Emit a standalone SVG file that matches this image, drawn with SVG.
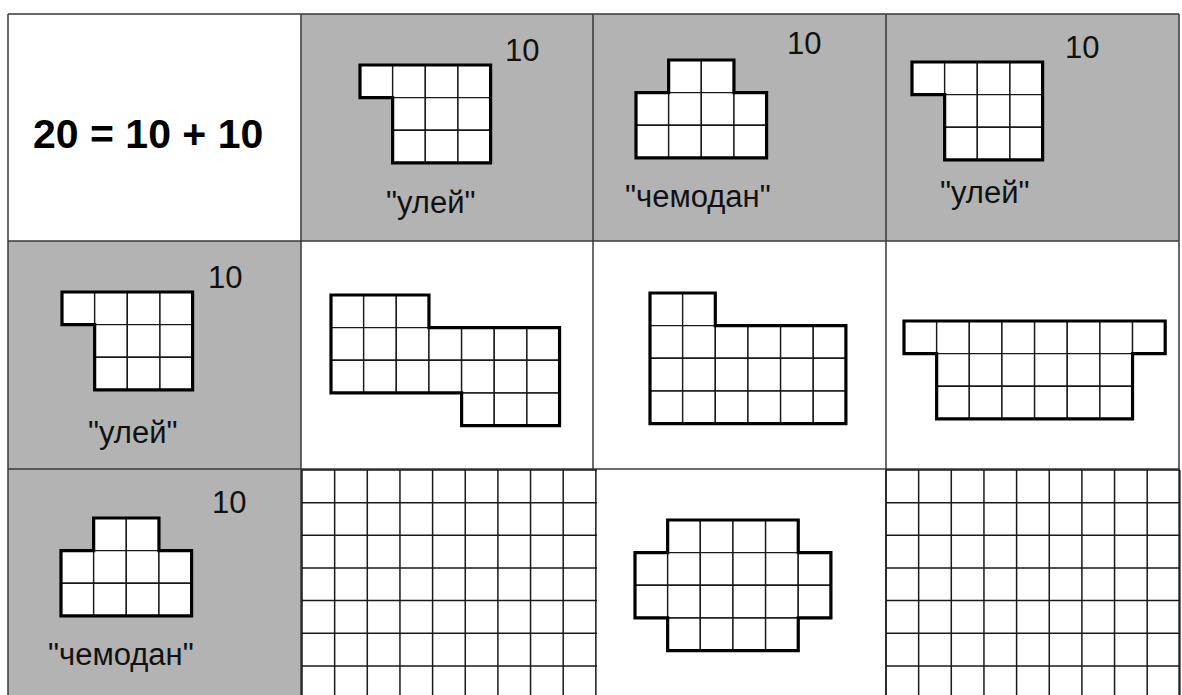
<svg xmlns="http://www.w3.org/2000/svg" width="1182" height="695" viewBox="0 0 1182 695">
<style>
.bg{fill:#ffffff}
.grey{fill:#b3b3b3}
.border{fill:none;stroke:#3a3a3a;stroke-width:1.5}
.cell{fill:#ffffff;stroke:#1a1a1a;stroke-width:1.4;vector-effect:non-scaling-stroke}
.outline{fill:none;stroke:#000000;stroke-width:3.2;stroke-linejoin:miter;vector-effect:non-scaling-stroke}
.gridline{fill:none;stroke:#1a1a1a;stroke-width:1.5}
.num{font-family:"Liberation Sans",Arial,sans-serif;font-size:31px;fill:#111111}
.lbl{font-family:"Liberation Sans",Arial,sans-serif;font-size:31px;fill:#111111}
.eq{font-family:"Liberation Sans",Arial,sans-serif;font-size:41px;font-weight:bold;fill:#000000}
</style>
<rect class="bg" x="0" y="0" width="1182" height="695"/>

<g id="cells-bg">
  <rect class="grey" x="301" y="14" width="292" height="227"/>
  <rect class="grey" x="593" y="14" width="293" height="227"/>
  <rect class="grey" x="886" y="14" width="293" height="227"/>
  <rect class="grey" x="8" y="241" width="293" height="228"/>
  <rect class="grey" x="8" y="469" width="294" height="226"/>
</g>

<g id="table-borders">
  <path class="border" d="M8,14 H1179 M8,241 H1179 M8,469 H1179 M8,14 V695 M301,14 V695 M593,14 V695 M886,14 V695 M1179,14 V695"/>
</g>

<g id="c11">
  <text class="eq" x="33" y="148">20 = 10 + 10</text>
</g>

<g id="c12">
  <g transform="translate(360,65) scale(32.65)">
    <rect class="cell" x="0" y="0" width="1" height="1"/><rect class="cell" x="1" y="0" width="1" height="1"/><rect class="cell" x="2" y="0" width="1" height="1"/><rect class="cell" x="3" y="0" width="1" height="1"/>
    <rect class="cell" x="1" y="1" width="1" height="1"/><rect class="cell" x="2" y="1" width="1" height="1"/><rect class="cell" x="3" y="1" width="1" height="1"/>
    <rect class="cell" x="1" y="2" width="1" height="1"/><rect class="cell" x="2" y="2" width="1" height="1"/><rect class="cell" x="3" y="2" width="1" height="1"/>
    <polygon class="outline" points="0,0 4,0 4,3 1,3 1,1 0,1"/>
  </g>
  <text class="num" x="505" y="61">10</text>
  <text class="lbl" x="386" y="213">"улей"</text>
</g>

<g id="c13">
  <g transform="translate(636,60) scale(32.65)">
    <rect class="cell" x="1" y="0" width="1" height="1"/><rect class="cell" x="2" y="0" width="1" height="1"/>
    <rect class="cell" x="0" y="1" width="1" height="1"/><rect class="cell" x="1" y="1" width="1" height="1"/><rect class="cell" x="2" y="1" width="1" height="1"/><rect class="cell" x="3" y="1" width="1" height="1"/>
    <rect class="cell" x="0" y="2" width="1" height="1"/><rect class="cell" x="1" y="2" width="1" height="1"/><rect class="cell" x="2" y="2" width="1" height="1"/><rect class="cell" x="3" y="2" width="1" height="1"/>
    <polygon class="outline" points="1,0 3,0 3,1 4,1 4,3 0,3 0,1 1,1"/>
  </g>
  <text class="num" x="787" y="54">10</text>
  <text class="lbl" x="625" y="207">"чемодан"</text>
</g>

<g id="c14">
  <g transform="translate(912,62) scale(32.65)">
    <rect class="cell" x="0" y="0" width="1" height="1"/><rect class="cell" x="1" y="0" width="1" height="1"/><rect class="cell" x="2" y="0" width="1" height="1"/><rect class="cell" x="3" y="0" width="1" height="1"/>
    <rect class="cell" x="1" y="1" width="1" height="1"/><rect class="cell" x="2" y="1" width="1" height="1"/><rect class="cell" x="3" y="1" width="1" height="1"/>
    <rect class="cell" x="1" y="2" width="1" height="1"/><rect class="cell" x="2" y="2" width="1" height="1"/><rect class="cell" x="3" y="2" width="1" height="1"/>
    <polygon class="outline" points="0,0 4,0 4,3 1,3 1,1 0,1"/>
  </g>
  <text class="num" x="1065" y="58">10</text>
  <text class="lbl" x="940" y="203">"улей"</text>
</g>

<g id="c21">
  <g transform="translate(62,292) scale(32.65)">
    <rect class="cell" x="0" y="0" width="1" height="1"/><rect class="cell" x="1" y="0" width="1" height="1"/><rect class="cell" x="2" y="0" width="1" height="1"/><rect class="cell" x="3" y="0" width="1" height="1"/>
    <rect class="cell" x="1" y="1" width="1" height="1"/><rect class="cell" x="2" y="1" width="1" height="1"/><rect class="cell" x="3" y="1" width="1" height="1"/>
    <rect class="cell" x="1" y="2" width="1" height="1"/><rect class="cell" x="2" y="2" width="1" height="1"/><rect class="cell" x="3" y="2" width="1" height="1"/>
    <polygon class="outline" points="0,0 4,0 4,3 1,3 1,1 0,1"/>
  </g>
  <text class="num" x="208" y="288">10</text>
  <text class="lbl" x="88" y="443">"улей"</text>
</g>

<g id="c22">
  <g transform="translate(331,295) scale(32.65)">
    <rect class="cell" x="0" y="0" width="1" height="1"/><rect class="cell" x="1" y="0" width="1" height="1"/><rect class="cell" x="2" y="0" width="1" height="1"/>
    <rect class="cell" x="0" y="1" width="1" height="1"/><rect class="cell" x="1" y="1" width="1" height="1"/><rect class="cell" x="2" y="1" width="1" height="1"/><rect class="cell" x="3" y="1" width="1" height="1"/><rect class="cell" x="4" y="1" width="1" height="1"/><rect class="cell" x="5" y="1" width="1" height="1"/><rect class="cell" x="6" y="1" width="1" height="1"/>
    <rect class="cell" x="0" y="2" width="1" height="1"/><rect class="cell" x="1" y="2" width="1" height="1"/><rect class="cell" x="2" y="2" width="1" height="1"/><rect class="cell" x="3" y="2" width="1" height="1"/><rect class="cell" x="4" y="2" width="1" height="1"/><rect class="cell" x="5" y="2" width="1" height="1"/><rect class="cell" x="6" y="2" width="1" height="1"/>
    <rect class="cell" x="4" y="3" width="1" height="1"/><rect class="cell" x="5" y="3" width="1" height="1"/><rect class="cell" x="6" y="3" width="1" height="1"/>
    <polygon class="outline" points="0,0 3,0 3,1 7,1 7,4 4,4 4,3 0,3"/>
  </g>
</g>

<g id="c23">
  <g transform="translate(650,293) scale(32.65)">
    <rect class="cell" x="0" y="0" width="1" height="1"/><rect class="cell" x="1" y="0" width="1" height="1"/>
    <rect class="cell" x="0" y="1" width="1" height="1"/><rect class="cell" x="1" y="1" width="1" height="1"/><rect class="cell" x="2" y="1" width="1" height="1"/><rect class="cell" x="3" y="1" width="1" height="1"/><rect class="cell" x="4" y="1" width="1" height="1"/><rect class="cell" x="5" y="1" width="1" height="1"/>
    <rect class="cell" x="0" y="2" width="1" height="1"/><rect class="cell" x="1" y="2" width="1" height="1"/><rect class="cell" x="2" y="2" width="1" height="1"/><rect class="cell" x="3" y="2" width="1" height="1"/><rect class="cell" x="4" y="2" width="1" height="1"/><rect class="cell" x="5" y="2" width="1" height="1"/>
    <rect class="cell" x="0" y="3" width="1" height="1"/><rect class="cell" x="1" y="3" width="1" height="1"/><rect class="cell" x="2" y="3" width="1" height="1"/><rect class="cell" x="3" y="3" width="1" height="1"/><rect class="cell" x="4" y="3" width="1" height="1"/><rect class="cell" x="5" y="3" width="1" height="1"/>
    <polygon class="outline" points="0,0 2,0 2,1 6,1 6,4 0,4"/>
  </g>
</g>

<g id="c24">
  <g transform="translate(904,321) scale(32.65)">
    <rect class="cell" x="0" y="0" width="1" height="1"/><rect class="cell" x="1" y="0" width="1" height="1"/><rect class="cell" x="2" y="0" width="1" height="1"/><rect class="cell" x="3" y="0" width="1" height="1"/><rect class="cell" x="4" y="0" width="1" height="1"/><rect class="cell" x="5" y="0" width="1" height="1"/><rect class="cell" x="6" y="0" width="1" height="1"/><rect class="cell" x="7" y="0" width="1" height="1"/>
    <rect class="cell" x="1" y="1" width="1" height="1"/><rect class="cell" x="2" y="1" width="1" height="1"/><rect class="cell" x="3" y="1" width="1" height="1"/><rect class="cell" x="4" y="1" width="1" height="1"/><rect class="cell" x="5" y="1" width="1" height="1"/><rect class="cell" x="6" y="1" width="1" height="1"/>
    <rect class="cell" x="1" y="2" width="1" height="1"/><rect class="cell" x="2" y="2" width="1" height="1"/><rect class="cell" x="3" y="2" width="1" height="1"/><rect class="cell" x="4" y="2" width="1" height="1"/><rect class="cell" x="5" y="2" width="1" height="1"/><rect class="cell" x="6" y="2" width="1" height="1"/>
    <polygon class="outline" points="0,0 8,0 8,1 7,1 7,3 1,3 1,1 0,1"/>
  </g>
</g>

<g id="c31">
  <g transform="translate(61,518) scale(32.65)">
    <rect class="cell" x="1" y="0" width="1" height="1"/><rect class="cell" x="2" y="0" width="1" height="1"/>
    <rect class="cell" x="0" y="1" width="1" height="1"/><rect class="cell" x="1" y="1" width="1" height="1"/><rect class="cell" x="2" y="1" width="1" height="1"/><rect class="cell" x="3" y="1" width="1" height="1"/>
    <rect class="cell" x="0" y="2" width="1" height="1"/><rect class="cell" x="1" y="2" width="1" height="1"/><rect class="cell" x="2" y="2" width="1" height="1"/><rect class="cell" x="3" y="2" width="1" height="1"/>
    <polygon class="outline" points="1,0 3,0 3,1 4,1 4,3 0,3 0,1 1,1"/>
  </g>
  <text class="num" x="212" y="513">10</text>
  <text class="lbl" x="48" y="665">"чемодан"</text>
</g>

<g id="c32">
  <rect fill="#ffffff" x="302" y="470" width="295" height="225"/>
  <path class="gridline" d="M302,470 V695 M334.65,470 V695 M367.3,470 V695 M399.95,470 V695 M432.6,470 V695 M465.25,470 V695 M497.9,470 V695 M530.55,470 V695 M563.2,470 V695 M595.85,470 V695
  M302,470 H597 M302,502.65 H597 M302,535.3 H597 M302,567.95 H597 M302,600.6 H597 M302,633.25 H597 M302,665.9 H597"/>
</g>

<g id="c33">
  <g transform="translate(635,520) scale(32.65)">
    <rect class="cell" x="1" y="0" width="1" height="1"/><rect class="cell" x="2" y="0" width="1" height="1"/><rect class="cell" x="3" y="0" width="1" height="1"/><rect class="cell" x="4" y="0" width="1" height="1"/>
    <rect class="cell" x="0" y="1" width="1" height="1"/><rect class="cell" x="1" y="1" width="1" height="1"/><rect class="cell" x="2" y="1" width="1" height="1"/><rect class="cell" x="3" y="1" width="1" height="1"/><rect class="cell" x="4" y="1" width="1" height="1"/><rect class="cell" x="5" y="1" width="1" height="1"/>
    <rect class="cell" x="0" y="2" width="1" height="1"/><rect class="cell" x="1" y="2" width="1" height="1"/><rect class="cell" x="2" y="2" width="1" height="1"/><rect class="cell" x="3" y="2" width="1" height="1"/><rect class="cell" x="4" y="2" width="1" height="1"/><rect class="cell" x="5" y="2" width="1" height="1"/>
    <rect class="cell" x="1" y="3" width="1" height="1"/><rect class="cell" x="2" y="3" width="1" height="1"/><rect class="cell" x="3" y="3" width="1" height="1"/><rect class="cell" x="4" y="3" width="1" height="1"/>
    <polygon class="outline" points="1,0 5,0 5,1 6,1 6,3 5,3 5,4 1,4 1,3 0,3 0,1 1,1"/>
  </g>
</g>

<g id="c34">
  <path class="gridline" d="M886,470 V695 M918.65,470 V695 M951.3,470 V695 M983.95,470 V695 M1016.6,470 V695 M1049.25,470 V695 M1081.9,470 V695 M1114.55,470 V695 M1147.2,470 V695 M1179.85,470 V695
  M886,470 H1180 M886,502.65 H1180 M886,535.3 H1180 M886,567.95 H1180 M886,600.6 H1180 M886,633.25 H1180 M886,665.9 H1180"/>
</g>
</svg>
